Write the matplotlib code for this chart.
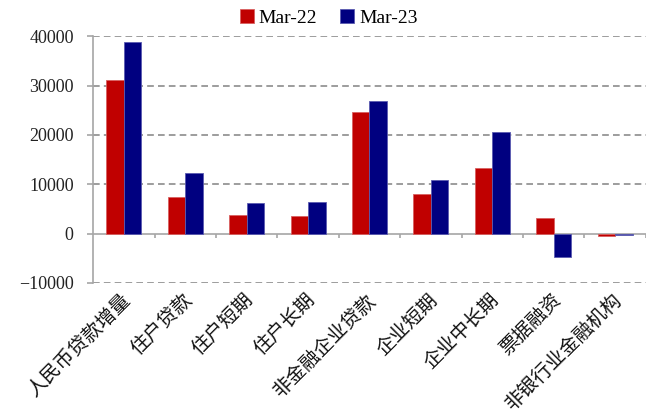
import numpy as np
import matplotlib
matplotlib.use("Agg")
import matplotlib.pyplot as plt
from matplotlib.transforms import ScaledTranslation

# 人民币贷款新增结构（亿元）
categories = ["人民币贷款增量", "住户贷款", "住户短期", "住户长期", "非金融企业贷款",
              "企业短期", "企业中长期", "票据融资", "非银行业金融机构"]
mar22 = [31100, 7500, 3800, 3600, 24700, 8100, 13300, 3200, -400]
mar23 = [38800, 12300, 6100, 6300, 26900, 10900, 20600, -4700, -300]
series_names = ["Mar-22", "Mar-23"]
yticks = [-10000, 0, 10000, 20000, 30000, 40000]

red = "#C00000"
navy = "#000080"
axis_gray = "#A6A6A6"
grid_gray = "#8C8C8C"

fig = plt.figure(figsize=(6.51, 4.16), dpi=100)
ax = fig.add_axes([0.143, 0.320, 0.849, 0.593])

x = np.arange(len(categories))
w = 0.285
b1 = ax.bar(x - w / 2, mar22, width=w, color=red, edgecolor="#D86060", linewidth=0.6, zorder=3)
b2 = ax.bar(x + w / 2, mar23, width=w, color=navy, edgecolor="#5A5AB0", linewidth=0.6, zorder=3)

ax.set_xlim(-0.5, len(categories) - 0.5)
ax.set_ylim(-10000, 40000)

# dashed horizontal gridlines
for v in yticks:
    if v != 0:
        ax.axhline(v, color=grid_gray, linestyle=(0, (4, 2.5)), linewidth=1.2, zorder=1)
# solid zero line with category separators
ax.axhline(0, color=axis_gray, linewidth=1.2, zorder=2)
ax.vlines(x + 0.5, -1000, 0, color=axis_gray, linewidth=1.2, zorder=2)

for s in ["top", "right", "bottom"]:
    ax.spines[s].set_visible(False)
ax.spines["left"].set_color(axis_gray)
ax.spines["left"].set_linewidth(1.2)

ax.set_yticks(yticks)
ax.set_yticklabels([f"{v}".replace("-", "\u2212") for v in yticks],
                   fontfamily="Liberation Serif", fontsize=13, color="#222222")
ax.tick_params(axis="y", length=4, width=1.2, color=axis_gray, pad=10)

ax.set_xticks(x)
ax.set_xticklabels(categories, rotation=45, ha="right", va="center", rotation_mode="anchor",
                   fontfamily=["Noto Sans CJK SC", "DejaVu Sans"], fontsize=14, color="#111111")
ax.tick_params(axis="x", length=0, pad=10)
shift = ScaledTranslation(4 / 100, 0, fig.dpi_scale_trans)
for lab in ax.get_xticklabels():
    lab.set_transform(lab.get_transform() + shift)

fig.legend([b1, b2], series_names, loc="upper center", bbox_to_anchor=(0.505, 1.02),
           ncol=2, frameon=False, handlelength=0.7, handleheight=0.7, handletextpad=0.25,
           columnspacing=1.2, prop={"family": "Liberation Serif", "size": 14})

fig.savefig("out.png", dpi=100)
